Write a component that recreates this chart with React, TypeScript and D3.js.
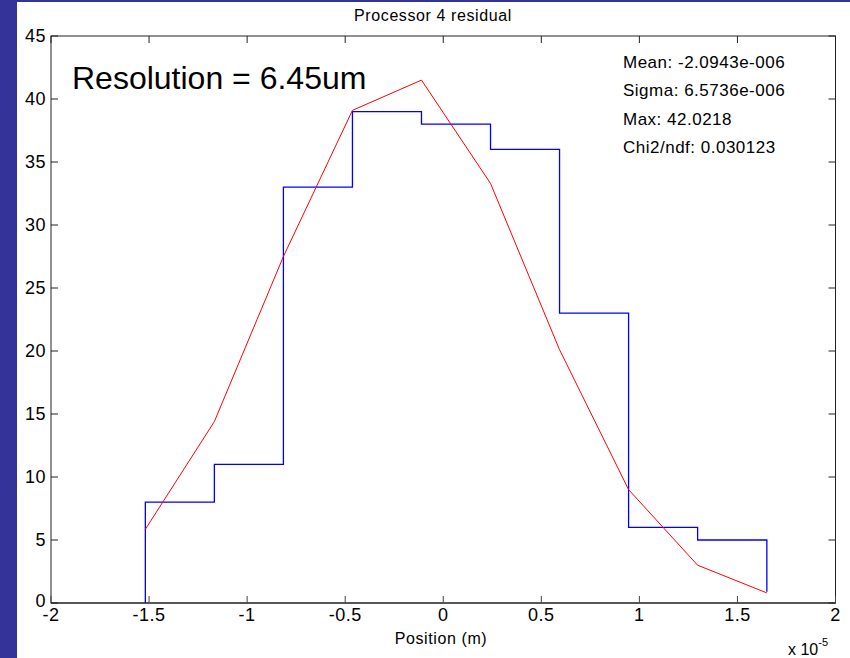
import React from "react";
import * as d3 from "d3";

const binEdges = [-1.519, -1.167, -0.815, -0.463, -0.111, 0.241, 0.593, 0.945, 1.297, 1.65];
const counts = [8, 11, 33, 39, 38, 36, 23, 6, 5];
const histEndValue = 0.9;
const fitValues = [5.85, 14.4, 27.5, 39.1, 41.5, 33.3, 20.1, 9.0, 3.0, 0.8];
const xTicks = [-2, -1.5, -1, -0.5, 0, 0.5, 1, 1.5, 2];
const yTicks = [0, 5, 10, 15, 20, 25, 30, 35, 40, 45];
const statsLines = ["Mean: -2.0943e-006", "Sigma: 6.5736e-006", "Max: 42.0218", "Chi2/ndf: 0.030123"];
const titleText = "Processor 4 residual";
const resolutionText = "Resolution =  6.45um";
const xLabel = "Position (m)";

const W = 850;
const H = 658;
const L = 51;
const R = 835.5;
const T = 36;
const B = 603;
const FONT = "'Liberation Sans', Arial, Helvetica, sans-serif";

export default function App() {
  const x = d3.scaleLinear().domain([-2, 2]).range([L, R]);
  const y = d3.scaleLinear().domain([0, 45]).range([B, T]);

  const histPts: [number, number][] = [[binEdges[0], 0]];
  counts.forEach((c, i) => {
    histPts.push([binEdges[i], c]);
    histPts.push([binEdges[i + 1], c]);
  });
  histPts.push([binEdges[binEdges.length - 1], histEndValue]);
  const line = d3
    .line<[number, number]>()
    .x((d) => x(d[0]))
    .y((d) => y(d[1]));
  const fitPts: [number, number][] = binEdges.map((e, i) => [e, fitValues[i]]);

  const tickLen = 7;
  const fmt = (v: number) => (v < 0 ? "-" + String(Math.abs(v)) : String(v));

  return (
    <svg
      width={W}
      height={H}
      style={{ position: "absolute", left: 0, top: 0, display: "block" }}
      fontFamily={FONT}
    >
      <rect x={0} y={0} width={W} height={H} fill="#ffffff" />
      <rect x={0} y={0} width={W} height={2} fill="#333399" />
      <rect x={0} y={0} width={17} height={H} fill="#333399" />

      <text x={433} y={21} fontSize={16} textAnchor="middle" fill="#000" style={{ letterSpacing: "0.6px" }}>
        {titleText}
      </text>

      {/* plot frame */}
      <rect x={L} y={T} width={R - L} height={B - T} fill="none" stroke="#222" strokeWidth={1} />
      <line x1={L} x2={R} y1={B} y2={B} stroke="#444" strokeWidth={1.5} />

      {/* x ticks */}
      {xTicks.map((t) => (
        <g key={"x" + t}>
          <line x1={x(t)} x2={x(t)} y1={B} y2={B - tickLen} stroke="#444" strokeWidth={1} />
          <line x1={x(t)} x2={x(t)} y1={T} y2={T + tickLen} stroke="#222" strokeWidth={1} />
          <text x={x(t)} y={621} fontSize={18} textAnchor="middle" fill="#000" style={{ letterSpacing: "0.5px" }}>
            {fmt(t)}
          </text>
        </g>
      ))}

      {/* y ticks */}
      {yTicks.map((t) => (
        <g key={"y" + t}>
          <line x1={L} x2={L + tickLen} y1={y(t)} y2={y(t)} stroke="#222" strokeWidth={1} />
          <line x1={R} x2={R - tickLen} y1={y(t)} y2={y(t)} stroke="#222" strokeWidth={1} />
          <text x={46} y={y(t) + (t === 0 ? 4 : 6)} fontSize={18} textAnchor="end" fill="#000" style={{ letterSpacing: "0.5px" }}>
            {t}
          </text>
        </g>
      ))}

      <text x={441} y={644} fontSize={16} textAnchor="middle" fill="#000" style={{ letterSpacing: "0.6px" }}>
        {xLabel}
      </text>
      <text x={788} y={655} fontSize={16} fill="#000">
        x 10
        <tspan dy={-9} fontSize={11}>-5</tspan>
      </text>

      {/* histogram */}
      <path d={line(histPts) || ""} fill="none" stroke="#0000ff" strokeWidth={1.3} />
      {/* fit */}
      <path d={line(fitPts) || ""} fill="none" stroke="#ff0000" strokeWidth={1} />

      <text x={72} y={89} fontSize={32} fill="#000">
        {resolutionText}
      </text>

      {statsLines.map((s, i) => (
        <text key={s} x={623} y={68 + i * 28.4} fontSize={17} fill="#000" style={{ letterSpacing: "0.5px" }}>
          {s}
        </text>
      ))}
    </svg>
  );
}
